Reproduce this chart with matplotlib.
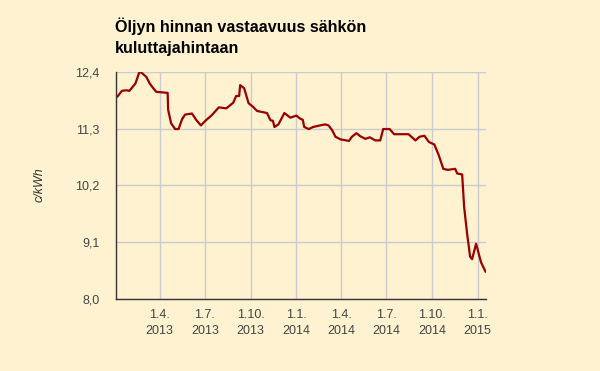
import matplotlib
matplotlib.use("Agg")
import matplotlib.pyplot as plt
import matplotlib.dates as mdates
import pandas as pd
from matplotlib.ticker import FixedLocator, FuncFormatter

dates = [
    "2013-01-03", "2013-01-06", "2013-01-15", "2013-01-24", "2013-01-30", "2013-02-11",
    "2013-02-19", "2013-02-21", "2013-03-05", "2013-03-12", "2013-03-19", "2013-03-25",
    "2013-04-17", "2013-04-18", "2013-04-24", "2013-05-02", "2013-05-09", "2013-05-16",
    "2013-05-22", "2013-06-05", "2013-06-14", "2013-06-23", "2013-07-02", "2013-07-15",
    "2013-07-29", "2013-08-13", "2013-08-27", "2013-09-02", "2013-09-08", "2013-09-10",
    "2013-09-18", "2013-09-27", "2013-10-06", "2013-10-14", "2013-10-24", "2013-11-03",
    "2013-11-10", "2013-11-15", "2013-11-18", "2013-11-26", "2013-12-08", "2013-12-20",
    "2014-01-01", "2014-01-09", "2014-01-14", "2014-01-17", "2014-01-26", "2014-02-04",
    "2014-02-18", "2014-02-28", "2014-03-07", "2014-03-14", "2014-03-21", "2014-03-31",
    "2014-04-17", "2014-04-23", "2014-05-02", "2014-05-10", "2014-05-20", "2014-05-29",
    "2014-06-09", "2014-06-19", "2014-06-25", "2014-07-08", "2014-07-17", "2014-08-15",
    "2014-08-29", "2014-09-06", "2014-09-16", "2014-09-25", "2014-10-06", "2014-10-15",
    "2014-10-24", "2014-11-02", "2014-11-17", "2014-11-21", "2014-12-01", "2014-12-05",
    "2014-12-11", "2014-12-17", "2014-12-21", "2014-12-29", "2015-01-08", "2015-01-17",
]
prices = [
    11.91, 11.92, 12.03, 12.04, 12.03, 12.17,
    12.39, 12.40, 12.30, 12.17, 12.08, 12.01,
    11.99, 11.66, 11.40, 11.29, 11.29, 11.48,
    11.57, 11.59, 11.46, 11.36, 11.45, 11.56,
    11.71, 11.69, 11.80, 11.93, 11.93, 12.14,
    12.08, 11.79, 11.72, 11.64, 11.62, 11.60,
    11.46, 11.45, 11.33, 11.38, 11.60, 11.51,
    11.55, 11.49, 11.47, 11.33, 11.29, 11.33,
    11.36, 11.38, 11.36, 11.27, 11.14, 11.09,
    11.06, 11.14, 11.21, 11.15, 11.10, 11.13,
    11.07, 11.07, 11.29, 11.29, 11.19, 11.19,
    11.07, 11.14, 11.16, 11.04, 10.99, 10.78,
    10.52, 10.50, 10.52, 10.43, 10.41, 9.78,
    9.26, 8.82, 8.77, 9.07, 8.71, 8.53,
]
x_tick_dates = ["2013-04-01", "2013-07-01", "2013-10-01", "2014-01-01",
                "2014-04-01", "2014-07-01", "2014-10-01", "2015-01-01"]
x_tick_labels = ["1.4.\n2013", "1.7.\n2013", "1.10.\n2013", "1.1.\n2014",
                 "1.4.\n2014", "1.7.\n2014", "1.10.\n2014", "1.1.\n2015"]
y_ticks = [8.0, 9.1, 10.2, 11.3, 12.4]
title = "Öljyn hinnan vastaavuus sähkön\nkuluttajahintaan"
y_label = "c/kWh"

plt.rcParams['font.family'] = ['Liberation Sans', 'DejaVu Sans']
bg = "#FEF2D0"

fig = plt.figure(figsize=(6.0, 3.71), dpi=100, facecolor=bg)
ax = fig.add_axes([116/600, 1 - 299/371, (486 - 116)/600, (299 - 71.7)/371])
ax.set_facecolor(bg)

x = pd.to_datetime(dates)
ax.plot(x, prices, color="#990000", linewidth=1.6, solid_joinstyle="round", zorder=3)

ax.set_xlim(pd.Timestamp("2013-01-03"), pd.Timestamp("2015-01-18"))
ax.set_ylim(8.0, 12.4)

xt = mdates.date2num(pd.to_datetime(x_tick_dates))
ax.xaxis.set_major_locator(FixedLocator(xt))
ax.set_xticklabels(x_tick_labels)
ax.yaxis.set_major_locator(FixedLocator(y_ticks))
ax.yaxis.set_major_formatter(FuncFormatter(lambda v, p: f"{v:.1f}".replace(".", ",")))

ax.grid(True, color="#CACACF", linewidth=1.0, zorder=1)
ax.set_axisbelow(True)
for s in ["top", "right"]:
    ax.spines[s].set_visible(False)
for s in ["left", "bottom"]:
    ax.spines[s].set_color("#333333")
    ax.spines[s].set_linewidth(1.0)
    ax.spines[s].set_zorder(4)

ax.tick_params(axis="both", length=0, labelsize=9, labelcolor="#444444")
ax.tick_params(axis="y", pad=12)
ax.tick_params(axis="x", pad=7)
for lab in ax.get_xticklabels():
    lab.set_linespacing(1.5)

fig.text(40/600, 1 - 185/371, y_label, rotation=90, fontsize=9, style="italic",
         color="#333333", ha="center", va="center")

fig.text(115/600, 1 - 17/371, title, fontsize=11.6, fontweight="bold", color="#000000",
         ha="left", va="top", linespacing=1.55)

fig.savefig("out.png", dpi=100, facecolor=bg)
